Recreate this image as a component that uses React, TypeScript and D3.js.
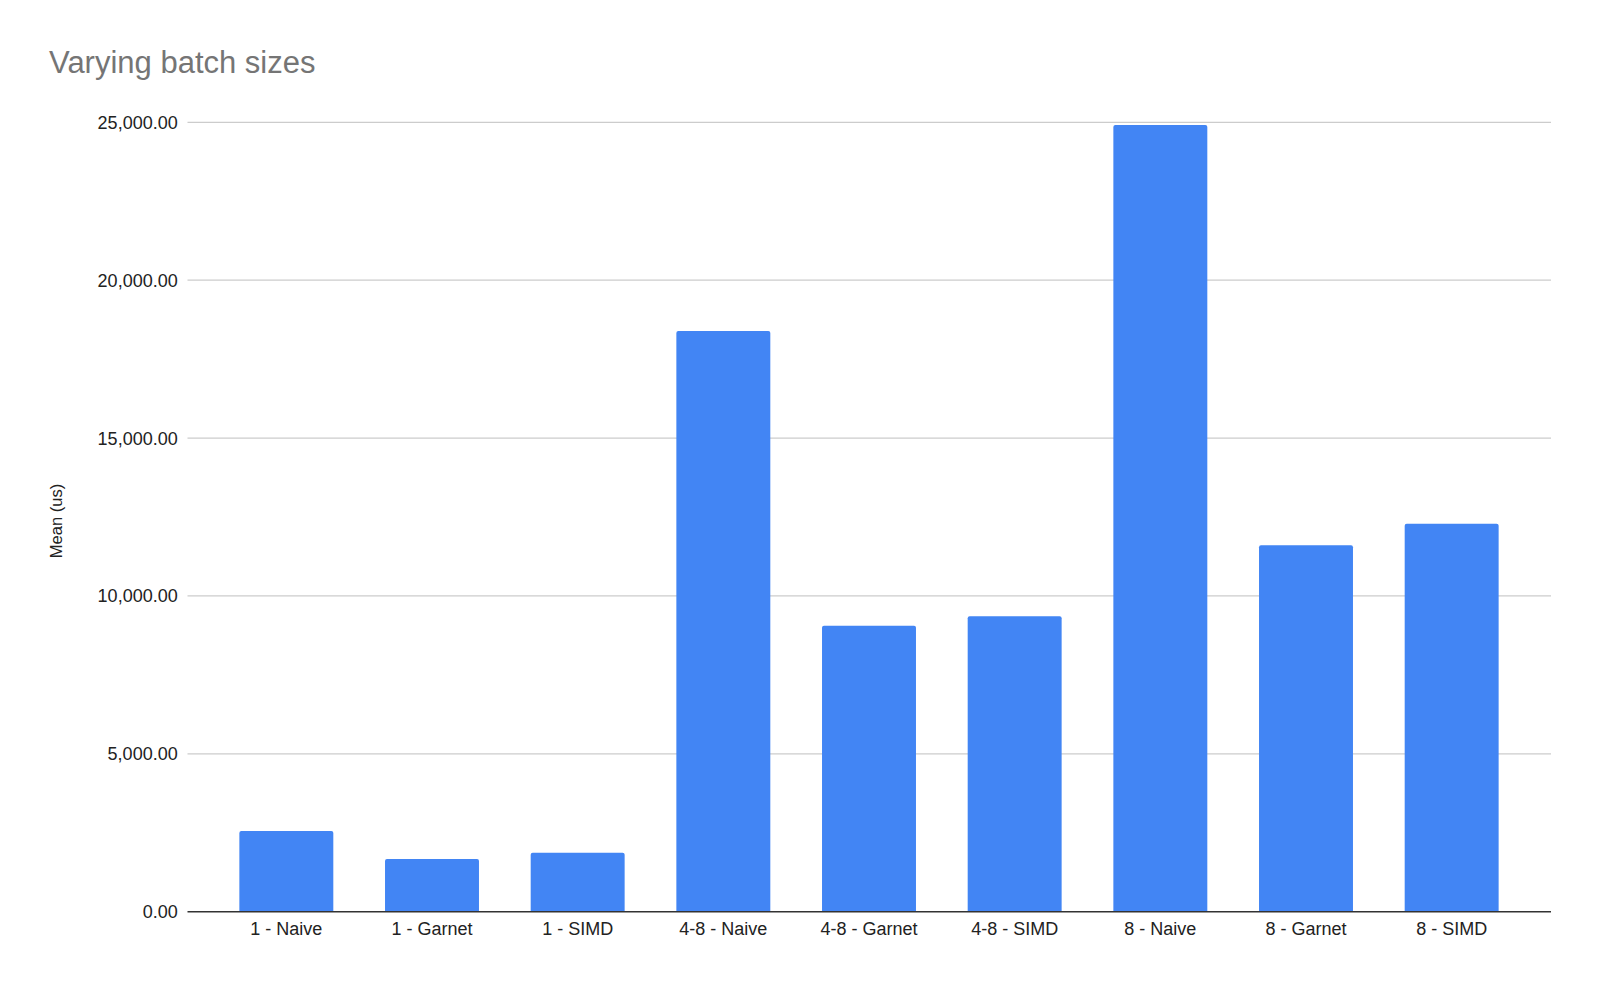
import React from "react";
import * as d3 from "d3";

const categories = ["1 - Naive", "1 - Garnet", "1 - SIMD", "4-8 - Naive", "4-8 - Garnet", "4-8 - SIMD", "8 - Naive", "8 - Garnet", "8 - SIMD"];
const meanValues = [2556, 1669, 1868, 18391, 9058, 9355, 24914, 11604, 12288];
const yTicks = [0, 5000, 10000, 15000, 20000, 25000];
const title = "Varying batch sizes";
const yAxisTitle = "Mean (us)";

const W = 1600;
const H = 988;
const FONT = "'Liberation Sans', Arial, sans-serif";

export default function App() {
  const plotLeft = 187.5;
  const plotRight = 1551;
  const y = d3.scaleLinear().domain([0, 25000]).range([911.7, 122.3]);
  const x = d3
    .scaleBand<string>()
    .domain(categories)
    .range([213.5, 1524.5])
    .paddingInner(0.355)
    .paddingOuter(0.1775);
  const fmt = d3.format(",.2f");
  const r = 2;

  const barPath = (x0: number, w: number, top: number, bottom: number) => {
    const rr = Math.min(r, (bottom - top) / 2);
    return `M${x0},${bottom}V${top + rr}Q${x0},${top} ${x0 + rr},${top}H${x0 + w - rr}Q${x0 + w},${top} ${x0 + w},${top + rr}V${bottom}Z`;
  };

  return (
    <svg
      width={W}
      height={H}
      style={{ position: "absolute", left: 0, top: 0, display: "block", background: "#fff" }}
      fontFamily={FONT}
    >
      <rect x={0} y={0} width={W} height={H} fill="#fff" />
      <text x={49} y={73.3} fontSize={31} fill="#757575">
        {title}
      </text>
      {yTicks.map((t) =>
        t === 0 ? null : (
          <line key={"g" + t} x1={plotLeft} x2={plotRight} y1={y(t)} y2={y(t)} stroke="#cccccc" strokeWidth={1.3} />
        )
      )}
      {yTicks.map((t) => (
        <text key={"t" + t} x={177.7} y={y(t)} dy={6.5} textAnchor="end" fontSize={18} fill="#222">
          {fmt(t)}
        </text>
      ))}
      <text
        transform={`translate(62,521) rotate(-90)`}
        textAnchor="middle"
        fontSize={16.5}
        fill="#222"
      >
        {yAxisTitle}
      </text>
      {categories.map((c, i) => {
        const x0 = x(c)!;
        const w = x.bandwidth();
        return (
          <path key={c} d={barPath(x0, w, y(meanValues[i]), y(0))} fill="#4285f4" />
        );
      })}
      <line x1={plotLeft} x2={plotRight} y1={y(0)} y2={y(0)} stroke="#333333" strokeWidth={1.4} />
      {categories.map((c) => (
        <text
          key={"l" + c}
          x={x(c)! + x.bandwidth() / 2}
          y={934.5}
          textAnchor="middle"
          fontSize={18}
          fill="#222"
        >
          {c}
        </text>
      ))}
    </svg>
  );
}
